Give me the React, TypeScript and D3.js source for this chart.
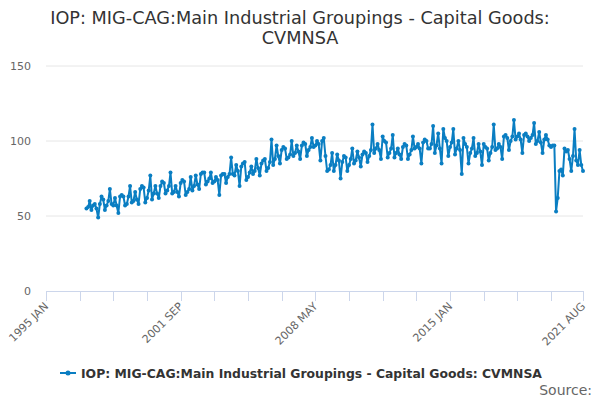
import * as d3 from "d3";
import React from "react";

// monthly values, 1997 JAN .. 2021 AUG
const startMonth = "1997-01";
const values1997 = [55, 56, 60, 54, 57, 58, 55, 49, 58, 63, 61, 54];
const values1998 = [57, 60, 68, 58, 57, 62, 57, 52, 63, 64, 63, 57];
const values1999 = [58, 63, 70, 59, 60, 66, 61, 58, 68, 70, 69, 59];
const values2000 = [62, 67, 77, 61, 65, 70, 65, 62, 70, 73, 72, 65];
const values2001 = [67, 70, 79, 65, 66, 70, 66, 63, 72, 74, 73, 64];
const values2002 = [66, 68, 76, 67, 70, 77, 71, 68, 78, 79, 79, 71];
const values2003 = [73, 75, 79, 72, 73, 76, 74, 64, 77, 78, 78, 72];
const values2004 = [76, 78, 89, 78, 77, 84, 80, 70, 83, 85, 86, 74];
const values2005 = [76, 79, 83, 78, 80, 88, 82, 77, 85, 87, 88, 80];
const values2006 = [82, 86, 101, 84, 88, 97, 90, 85, 94, 96, 95, 88];
const values2007 = [89, 91, 100, 90, 92, 97, 93, 88, 97, 99, 98, 90];
const values2008 = [94, 96, 102, 96, 97, 100, 98, 87, 100, 102, 90, 80];
const values2009 = [81, 84, 92, 80, 84, 91, 87, 75, 86, 90, 89, 80];
const values2010 = [84, 88, 95, 85, 87, 93, 89, 83, 91, 93, 92, 86];
const values2011 = [90, 94, 111, 92, 95, 98, 94, 88, 103, 100, 99, 89];
const values2012 = [92, 95, 104, 89, 92, 95, 91, 88, 96, 98, 97, 88];
const values2013 = [91, 94, 103, 95, 96, 98, 95, 85, 99, 101, 100, 95];
const values2014 = [95, 98, 110, 92, 97, 105, 95, 85, 108, 102, 100, 90];
const values2015 = [96, 99, 108, 91, 95, 100, 94, 78, 102, 98, 96, 85];
const values2016 = [92, 95, 102, 90, 92, 98, 93, 84, 98, 96, 95, 87];
const values2017 = [92, 96, 111, 94, 95, 98, 96, 88, 103, 104, 102, 94];
const values2018 = [100, 103, 114, 101, 103, 105, 101, 92, 104, 105, 103, 100];
const values2019 = [102, 104, 112, 98, 100, 106, 99, 92, 101, 104, 101, 97];
const values2020 = [96, 97, 97, 53, 62, 80, 81, 77, 95, 93, 94, 88];
const values2021 = [80, 90, 108, 87, 84, 94, 84, 80];

const seriesName = "IOP: MIG-CAG:Main Industrial Groupings - Capital Goods: CVMNSA";
const titleLines = ["IOP: MIG-CAG:Main Industrial Groupings - Capital Goods:", "CVMNSA"];
const yTicks = [0, 50, 100, 150];
const xDomain = ["1995-01", "2021-08"];
const xLabelTicks = ["1995-01", "2001-09", "2008-05", "2015-01", "2021-08"];
const xTickStepMonths = 20;

const allValues = [
    values1997, values1998, values1999, values2000, values2001, values2002, values2003,
    values2004, values2005, values2006, values2007, values2008, values2009, values2010,
    values2011, values2012, values2013, values2014, values2015, values2016, values2017,
    values2018, values2019, values2020, values2021,
].flat();

interface Point {
    date: Date;
    value: number;
}

const parseMonth = d3.timeParse("%Y-%m");
const formatMonth = (d: Date) => d3.timeFormat("%Y %b")(d).toUpperCase();

class App extends React.PureComponent<any, any> {
    svgRef: any;

    constructor(props: any) {
        super(props);
        this.svgRef = React.createRef();
    }

    componentDidMount() {
        this.drawChart();
    }

    drawChart() {
        const width = 600;
        const height = 400;
        const left = 46;
        const right = 583;
        const top = 66;
        const bottom = 291;
        const color = "#0a7ec2";
        const font = "'DejaVu Sans', sans-serif";

        const svg = d3.select(this.svgRef.current)
            .attr("width", width)
            .attr("height", height)
            .style("font-family", font);
        svg.selectAll("*").remove();

        const start = parseMonth(startMonth) as Date;
        const data: Point[] = allValues.map((v, i) => ({ date: d3.timeMonth.offset(start, i), value: v }));

        const xScale = d3.scaleTime()
            .domain(xDomain.map(s => parseMonth(s) as Date))
            .range([left, right]);
        const yScale = d3.scaleLinear()
            .domain([0, 150])
            .range([bottom, top]);

        // title
        svg.append("g")
            .selectAll("text")
            .data(titleLines)
            .enter()
            .append("text")
            .attr("x", width / 2)
            .attr("y", (_d, i) => 24 + i * 20)
            .attr("text-anchor", "middle")
            .style("font-size", "17.7px")
            .style("fill", "#333333")
            .text(d => d);

        // grid + y labels
        const grid = svg.append("g");
        grid.selectAll("line")
            .data(yTicks.filter(t => t > 0))
            .enter()
            .append("line")
            .attr("x1", left)
            .attr("x2", right)
            .attr("y1", d => yScale(d))
            .attr("y2", d => yScale(d))
            .attr("stroke", "#e6e6e6")
            .attr("stroke-width", 1);
        grid.selectAll("text")
            .data(yTicks)
            .enter()
            .append("text")
            .attr("x", 31)
            .attr("y", d => yScale(d) + 4)
            .attr("text-anchor", "end")
            .style("font-size", "11px")
            .style("fill", "#666666")
            .text(d => d);

        // x axis
        const xStart = parseMonth(xDomain[0]) as Date;
        const xEnd = parseMonth(xDomain[1]) as Date;
        const tickDates = d3.range(0, d3.timeMonth.count(xStart, xEnd), xTickStepMonths)
            .map(m => d3.timeMonth.offset(xStart, m));
        tickDates.push(xEnd);

        const xAxis = svg.append("g").attr("class", "x-axis");
        xAxis.append("line")
            .attr("x1", left)
            .attr("x2", right)
            .attr("y1", bottom + 0.5)
            .attr("y2", bottom + 0.5)
            .attr("stroke", "#ccd6eb");
        xAxis.selectAll(".tick")
            .data(tickDates)
            .enter()
            .append("line")
            .attr("class", "tick")
            .attr("x1", d => Math.round(xScale(d)) + 0.5)
            .attr("x2", d => Math.round(xScale(d)) + 0.5)
            .attr("y1", bottom)
            .attr("y2", bottom + 10)
            .attr("stroke", "#ccd6eb");
        xAxis.selectAll(".label")
            .data(xLabelTicks.map(s => parseMonth(s) as Date))
            .enter()
            .append("text")
            .attr("class", "label")
            .attr("transform", d => `translate(${xScale(d) + 3},${bottom + 16}) rotate(-45)`)
            .attr("text-anchor", "end")
            .style("font-size", "11px")
            .style("fill", "#666666")
            .text(d => formatMonth(d));

        // series
        const line = d3.line<Point>()
            .x(d => xScale(d.date))
            .y(d => yScale(d.value));
        svg.append("path")
            .datum(data)
            .attr("d", line)
            .attr("fill", "none")
            .attr("stroke", color)
            .attr("stroke-width", 2)
            .attr("stroke-linejoin", "round");
        svg.append("g")
            .selectAll("circle")
            .data(data)
            .enter()
            .append("circle")
            .attr("cx", d => xScale(d.date))
            .attr("cy", d => yScale(d.value))
            .attr("r", 2)
            .attr("fill", color);

        // legend
        const legend = svg.append("g").attr("transform", "translate(60,373)");
        legend.append("line")
            .attr("x1", 0)
            .attr("x2", 16)
            .attr("y1", 0)
            .attr("y2", 0)
            .attr("stroke", color)
            .attr("stroke-width", 2);
        legend.append("circle")
            .attr("cx", 8)
            .attr("cy", 0)
            .attr("r", 2.5)
            .attr("fill", color);
        legend.append("text")
            .attr("x", 21)
            .attr("y", 4.5)
            .style("font-size", "12.4px")
            .style("font-weight", "bold")
            .style("fill", "#333333")
            .text(seriesName);

        svg.append("text")
            .attr("x", 592)
            .attr("y", 395)
            .attr("text-anchor", "end")
            .style("font-size", "14px")
            .style("fill", "#666666")
            .text("Source:");
    }

    render() {
        return (
            <div style={{ position: "absolute", left: 0, top: 0 }}>
                <svg ref={this.svgRef}></svg>
            </div>
        );
    }
}

export default App;
